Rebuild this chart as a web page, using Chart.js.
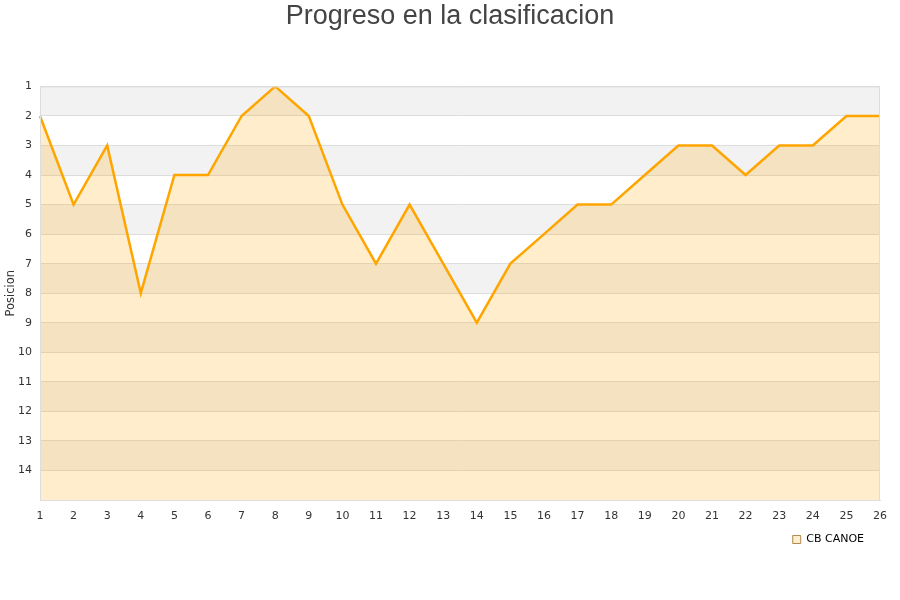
<!DOCTYPE html>
<html>
<head>
<meta charset="utf-8">
<script src="https://cdn.jsdelivr.net/npm/chart.js@4/dist/chart.umd.min.js"></script>
<style>
  body { margin: 0; background: #fff; }
</style>
</head>
<body>
<canvas id="myChart" width="900" height="600"></canvas>
<script>
const jornadas = ["1", "2", "3", "4", "5", "6", "7", "8", "9", "10", "11", "12", "13",
	"14", "15", "16", "17", "18", "19", "20", "21", "22", "23", "24", "25", "26"];
const posiciones = [2, 5, 3, 8, 4, 4, 2, 1, 2, 5, 7, 5, 7, 9, 7, 6, 5, 5, 4, 3, 3, 4, 3, 3, 2, 2];
const equipo = "CB CANOE";
const posMin = 1;
const posMax = 15;

// franjas grises alternas detras de la linea
const bandas = {
	id: "bandas",
	afterLayout(chart) {
		// la leyenda queda un poco mas a la izquierda
		chart.legend.right -= 6;
	},
	beforeDraw(chart) {
		const { ctx, chartArea, scales } = chart;
		ctx.save();
		ctx.fillStyle = "#f2f2f2";
		for (let v = posMin; v < posMax; v += 2) {
			const y1 = scales.y.getPixelForValue(v);
			const y2 = scales.y.getPixelForValue(v + 1);
			ctx.fillRect(chartArea.left, y1, chartArea.right - chartArea.left, y2 - y1);
		}
		ctx.restore();
	},
	afterDraw(chart) {
		const { ctx, chartArea } = chart;
		ctx.save();
		ctx.strokeStyle = "#dddddd";
		ctx.lineWidth = 1;
		ctx.strokeRect(chartArea.left + 0.5, chartArea.top + 0.5,
			chartArea.right - chartArea.left - 1, chartArea.bottom - chartArea.top);
		ctx.restore();
	}
};

new Chart(document.getElementById("myChart").getContext("2d"), {
	type: "line",
	data: {
		labels: jornadas,
		datasets: [{
			label: equipo,
			data: posiciones,
			borderColor: "#ffa500",
			backgroundColor: "rgba(255,165,0,0.2)",
			borderWidth: 2.5,
			pointRadius: 0,
			tension: 0,
			fill: { value: posMax }
		}]
	},
	options: {
		responsive: false,
		devicePixelRatio: 1,
		animation: false,
		layout: { padding: { left: 0, right: 0, top: 0, bottom: 45 } },
		plugins: {
			title: {
				display: true,
				text: "Progreso en la clasificacion",
				color: "#444",
				font: { family: "'Liberation Sans', Arial, sans-serif", size: 27, weight: "normal" },
				padding: { top: 0, bottom: 54 }
			},
			legend: {
				position: "bottom",
				align: "end",
				fullSize: false,
				labels: {
					color: "#000",
					boxWidth: 8,
					boxHeight: 8,
					font: { family: "'DejaVu Sans', sans-serif", size: 11 },
					generateLabels(chart) {
						const items = Chart.defaults.plugins.legend.labels.generateLabels(chart);
						items.forEach((it) => {
							it.fillStyle = "#ffedcc";
							it.strokeStyle = "#b08a50";
							it.lineWidth = 1;
						});
						return items;
					}
				}
			},
			tooltip: { enabled: false }
		},
		scales: {
			x: {
				offset: false,
				grid: { display: false },
				border: { color: "#dddddd" },
				ticks: {
					color: "#333",
					padding: 2,
					maxRotation: 0,
					autoSkip: false,
					font: { family: "'DejaVu Sans', sans-serif", size: 11 }
				},
				afterFit(scale) { scale.height = 24; }
			},
			y: {
				min: posMin,
				max: posMax,
				reverse: true,
				grid: { color: "#dddddd", drawTicks: false },
				border: { color: "#dddddd" },
				ticks: {
					stepSize: 1,
					padding: 8,
					color: "#333",
					font: { family: "'DejaVu Sans', sans-serif", size: 11 },
					callback: (v) => (v === posMax ? "" : v)
				},
				title: {
					display: true,
					text: "Posicion",
					color: "#333",
					font: { family: "'DejaVu Sans', sans-serif", size: 11.5 },
					padding: { top: 4, bottom: 0 }
				},
				afterFit(scale) { scale.width = 40; }
			},
			margen: {
				position: "right",
				grid: { display: false },
				border: { display: false },
				ticks: { display: false },
				afterFit(scale) { scale.width = 20; }
			}
		}
	},
	plugins: [bandas]
});
</script>
</body>
</html>
